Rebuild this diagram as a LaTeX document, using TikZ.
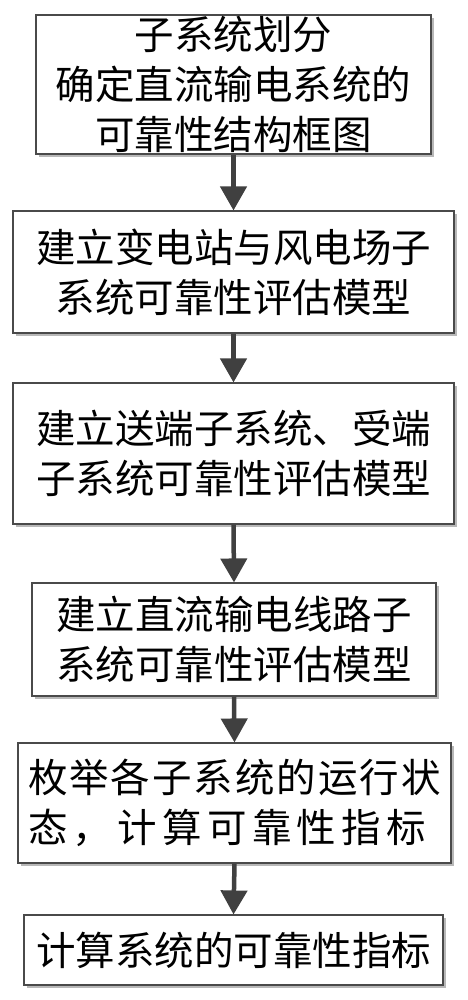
\documentclass[tikz,border=0pt]{standalone}
\usepackage{fontspec}
\newfontfamily\cjk{Noto Sans CJK SC}
\usetikzlibrary{arrows.meta,shadows}
\definecolor{edge}{HTML}{4A4A4A}
\definecolor{arrowc}{HTML}{404040}
\definecolor{shade}{HTML}{B8B8B8}
\begin{document}
\begin{tikzpicture}[x=1pt,y=-1pt,
  stepbox/.style={draw=edge, line width=1.1pt, fill=white, inner sep=0pt,
    align=center, font=\cjk\fontsize{39.5}{50}\selectfont,
    drop shadow={shadow xshift=3pt, shadow yshift=-3pt, fill=shade, opacity=1}},
  flow/.style={draw=arrowc, line width=4.5pt, -{Triangle[length=24pt,width=26pt]}}]
\useasboundingbox (0,0) rectangle (467,1000);
\fill[white] (0,0) rectangle (467,1000);
\node[stepbox, minimum width=395pt, minimum height=139pt] (b1) at (233.5,84.5)
  {子系统划分\\确定直流输电系统的\\可靠性结构框图};
\node[stepbox, minimum width=441pt, minimum height=122pt] (b2) at (233.5,272)
  {建立变电站与风电场子\\系统可靠性评估模型};
\node[stepbox, minimum width=441pt, minimum height=141pt] (b3) at (233.5,453.5)
  {建立送端子系统、受端\\子系统可靠性评估模型};
\node[stepbox, minimum width=404pt, minimum height=113pt] (b4) at (234,639.5)
  {建立直流输电线路子\\系统可靠性评估模型};
\node[stepbox, minimum width=433pt, minimum height=120pt, align=left] (b5) at (234.5,803)
  {\makebox[413pt][s]{枚\hfill 举\hfill 各\hfill 子\hfill 系\hfill 统\hfill 的\hfill 运\hfill 行\hfill 状}\\\makebox[398pt][s]{态\hfill \makebox[39.5pt][l]{，}\hfill 计\hfill 算\hfill 可\hfill 靠\hfill 性\hfill 指\hfill 标}};
\node[stepbox, minimum width=419pt, minimum height=70pt] (b6) at (233.5,950)
  {计算系统的可靠性指标};
\draw[flow] (b1.south) -- (b2.north);
\draw[flow] (b2.south) -- (b3.north);
\draw[flow] (b3.south) -- (b4.north);
\draw[flow] (b4.south) -- (b5.north);
\draw[flow] (b5.south) -- (b6.north);
\end{tikzpicture}
\end{document}
